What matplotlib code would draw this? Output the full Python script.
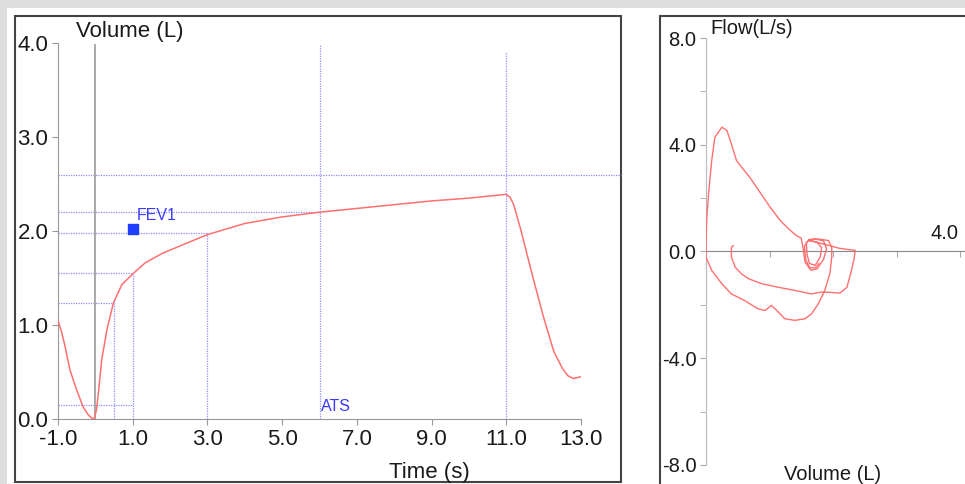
import matplotlib
matplotlib.use("Agg")
import matplotlib.pyplot as plt
from matplotlib.patches import Rectangle

plt.rcParams['font.family'] = ['Liberation Sans', 'DejaVu Sans']
plt.rcParams['axes.unicode_minus'] = False

# volume-time curve (s, L)
vt_time = [-1.0, -0.9, -0.81, -0.68, -0.5, -0.33, -0.2, -0.1, -0.03, 0.03, 0.08,
           0.17, 0.31, 0.48, 0.71, 1.02, 1.33, 1.78, 2.32, 2.99, 4.0, 5.0, 6.0,
           7.0, 8.0, 9.0, 10.0, 11.0, 11.1, 11.2, 11.39, 11.73, 12.0, 12.27,
           12.5, 12.65, 12.8, 13.0]
vt_volume = [1.05, 0.92, 0.77, 0.52, 0.31, 0.13, 0.05, 0.01, 0.0, 0.1, 0.27,
             0.63, 0.95, 1.23, 1.43, 1.55, 1.66, 1.76, 1.85, 1.96, 2.08, 2.15,
             2.20, 2.24, 2.28, 2.32, 2.35, 2.39, 2.36, 2.28, 2.01, 1.48, 1.08,
             0.72, 0.54, 0.46, 0.43, 0.45]

# flow-volume loops (L, L/s)
fv1_volume = [0.0, 0.01, 0.04, 0.09, 0.14, 0.25, 0.33, 0.40, 0.48, 0.56, 0.69,
              0.85, 1.01, 1.17, 1.30, 1.42, 1.50, 1.53, 1.56, 1.65, 1.75, 1.85,
              1.90, 1.85, 1.70, 1.58, 1.59, 1.63, 1.72, 1.80, 1.82, 1.75, 1.62,
              1.90, 2.10, 2.35, 2.33, 2.29, 2.22, 2.11, 1.95, 1.82, 1.66, 1.40,
              1.14, 0.88, 0.67, 0.56, 0.46, 0.40, 0.40, 0.43]
fv1_flow = [0.04, 1.16, 2.16, 3.41, 4.28, 4.66, 4.53, 4.03, 3.41, 3.16, 2.78,
            2.22, 1.66, 1.16, 0.85, 0.6, 0.50, 0.10, -0.40, -0.70, -0.65, -0.30,
            0.10, 0.40, 0.48, 0.35, -0.10, -0.45, -0.52, -0.20, 0.15, 0.35, 0.42,
            0.25, 0.12, 0.04, -0.30, -0.71, -1.34, -1.56, -1.53, -1.52, -1.59,
            -1.46, -1.34, -1.21, -1.02, -0.84, -0.59, -0.21, 0.16, 0.22]
fv2_volume = [0.0, 0.0, 0.09, 0.25, 0.40, 0.61, 0.82, 0.93, 1.03, 1.14, 1.24,
              1.40, 1.56, 1.66, 1.77, 1.87, 1.95, 1.98, 1.98, 1.93, 1.77, 1.62,
              1.55, 1.57, 1.63, 1.72, 1.78]
fv2_flow = [0.0, -0.21, -0.71, -1.21, -1.59, -1.84, -2.15, -2.21, -2.02, -2.27,
            -2.52, -2.58, -2.52, -2.34, -1.96, -1.46, -0.84, -0.21, 0.16, 0.41,
            0.47, 0.45, 0.20, -0.30, -0.60, -0.62, -0.45]

x_ticks = [-1, 1, 3, 5, 7, 9, 11, 13]
y_ticks = [0, 1, 2, 3, 4]
fv_y_ticks = [-8, -4, 0, 4, 8]
fv_y_minor = [-6, -2, 2, 6]
fv_x_ticks = [1, 2, 3, 4]

# reference lines: (x position, top volume) and (volume, right end time)
vlines = [(0.5, 1.23), (1.0, 1.55), (3.0, 1.98), (6.0, 3.98), (11.0, 3.9)]
hlines = [(2.6, 14.07), (2.2, 6.0), (1.98, 3.0), (1.55, 1.0), (1.23, 0.5), (0.15, 1.0)]
fev1 = (1.0, 2.02)

W, H = 965, 484
fig = plt.figure(figsize=(W / 100, H / 100), dpi=100)
fig.patch.set_facecolor('white')

def fx(px):
    return px / W

def fy(py):
    return 1 - py / H

# background bands and panel frames (behind the axes)
for r in [Rectangle((0, fy(8)), 1, 8 / H, facecolor='#dedede', edgecolor='none'),
          Rectangle((0, 0), 7 / W, 1, facecolor='#dedede', edgecolor='none'),
          Rectangle((fx(15), fy(482)), fx(621 - 15), (482 - 16) / H,
                    facecolor='white', edgecolor='#444444', lw=1.5),
          Rectangle((fx(660), fy(494)), fx(330), (494 - 16) / H,
                    facecolor='white', edgecolor='#444444', lw=1.5)]:
    r.set_transform(fig.transFigure)
    r.set_zorder(-5)
    fig.add_artist(r)

grid_c = '#8c8cff'
curve_c = '#ff7070'

# ---- volume-time ----
ax = fig.add_axes([fx(58), fy(419), fx(581 - 58), (419 - 43) / H])
ax.patch.set_alpha(0)
ax.set_xlim(-1, 13)
ax.set_ylim(0, 4)
for s in ['top', 'right']:
    ax.spines[s].set_visible(False)
for s in ['left', 'bottom']:
    ax.spines[s].set_color('#999999')
ax.set_xticks(x_ticks)
ax.set_xticklabels(['%.1f' % v for v in x_ticks])
ax.set_yticks(y_ticks)
ax.set_yticklabels(['%.1f' % v for v in y_ticks])
ax.tick_params(length=4, color='#999999', labelsize=16, labelcolor='#1a1a1a', pad=3)

for x, top in vlines:
    ax.plot([x, x], [0, top], color=grid_c, lw=0.9, ls=(0, (1, 1)), zorder=1)
for y, right in hlines:
    ax.plot([-1, right], [y, y], color=grid_c, lw=0.9, ls=(0, (1, 1)), zorder=1,
            clip_on=False)
ax.plot([0, 0], [0, 3.98], color='#999999', lw=1.2, zorder=1)
ax.plot(vt_time, vt_volume, color=curve_c, lw=1.1, zorder=3)
ax.plot([fev1[0]], [fev1[1]], marker='s', ms=7, color='#1f3fff', zorder=4)
ax.text(fev1[0] + 0.1, fev1[1] + 0.07, 'FEV1', color='#3a3aff', fontsize=11.5,
        ha='left', va='bottom')
ax.text(6.05, 0.05, 'ATS', color='#3a3aff', fontsize=11.5, ha='left', va='bottom')
ax.text(0.138, 1.03, 'Volume (L)', transform=ax.transAxes, fontsize=16,
        ha='center', va='center', color='#1a1a1a')
ax.set_xlabel('Time (s)', fontsize=16, color='#1a1a1a')
ax.xaxis.set_label_coords(0.711, -0.115)

# ---- flow-volume ----
ax2 = fig.add_axes([fx(706), fy(465), fx(965 - 706), (465 - 38) / H])
ax2.patch.set_alpha(0)
ax2.set_xlim(0, (965 - 706) / 63.5)
ax2.set_ylim(-8, 8)
for s in ['top', 'right']:
    ax2.spines[s].set_visible(False)
ax2.spines['left'].set_color('#bbbbbb')
ax2.spines['bottom'].set_position(('data', 0))
ax2.spines['bottom'].set_color('#888888')
ax2.set_yticks(fv_y_ticks)
ax2.set_yticklabels(['%.1f' % v for v in fv_y_ticks])
ax2.set_yticks(fv_y_minor, minor=True)
ax2.set_xticks(fv_x_ticks)
ax2.set_xticklabels([''] * len(fv_x_ticks))
ax2.tick_params(which='both', length=4, color='#aaaaaa', labelsize=14.5,
                labelcolor='#1a1a1a', pad=3)
ax2.plot(fv1_volume, fv1_flow, color=curve_c, lw=1.0, zorder=3)
ax2.plot(fv2_volume, fv2_flow, color=curve_c, lw=1.0, zorder=3)
ax2.text(3.97, 0.3, '4.0', fontsize=14.5, ha='right', va='bottom', color='#1a1a1a')
ax2.text(0.016, 1.023, 'Flow(L/s)', transform=ax2.transAxes, fontsize=14.5,
         ha='left', va='center', color='#1a1a1a')
ax2.text(2.0, -8.0, 'Volume (L)', fontsize=14.5, ha='center', va='top',
         color='#1a1a1a', clip_on=False)

fig.savefig('out.png', dpi=100)
